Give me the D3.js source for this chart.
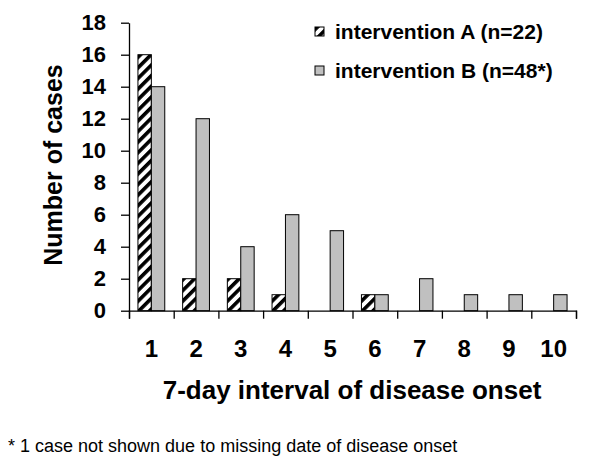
<!DOCTYPE html>
<html>
<head>
<meta charset="utf-8">
<script src="https://cdn.jsdelivr.net/npm/d3@7"></script>
<style>
  body { margin: 0; background: #fff; }
  svg { display: block; font-family: "Liberation Sans", Arial, sans-serif; }
</style>
</head>
<body>
<svg id="chart" width="600" height="465"></svg>
<script>
const intervals = [1, 2, 3, 4, 5, 6, 7, 8, 9, 10];
const casesA = [16, 2, 2, 1, 0, 1, 0, 0, 0, 0];
const casesB = [14, 12, 4, 6, 5, 1, 2, 1, 1, 1];
const seriesNames = ['intervention A (n=22)', 'intervention B (n=48*)'];
const yTicks = [0, 2, 4, 6, 8, 10, 12, 14, 16, 18];

const WIDTH = 600;
const HEIGHT = 465;
const margin = {top: 22.7, right: 24, bottom: 154.3, left: 129};

const svg = d3.select('#chart');

// hatch for intervention A
const defs = svg.append('defs');
defs.append('pattern')
    .attr('id', 'hatch')
    .attr('patternUnits', 'userSpaceOnUse')
    .attr('width', 7.5)
    .attr('height', 7.5)
    .attr('patternTransform', 'rotate(45)')
    .call(p => {
        p.append('rect').attr('width', 7.5).attr('height', 7.5).attr('fill', '#fff');
        p.append('rect').attr('width', 3.6).attr('height', 7.5).attr('fill', '#000');
    });

const fills = ['url(#hatch)', '#c0c0c0'];

const x = d3.scaleBand()
    .domain(intervals)
    .range([margin.left, WIDTH - margin.right])
    .padding(0);

const xSub = d3.scaleBand()
    .domain([0, 1])
    .range([0, x.bandwidth()])
    .paddingInner(0)
    .paddingOuter(0.667);

const xEdges = d3.scaleLinear()
    .domain([0, intervals.length])
    .range(x.range());

const y = d3.scaleLinear()
    .domain([0, 18])
    .range([HEIGHT - margin.bottom, margin.top]);

// bars
const rows = intervals.map((k, i) => ({k, values: [casesA[i], casesB[i]]}));

svg.append('g')
    .selectAll('g')
    .data(rows)
    .join('g')
    .attr('transform', d => `translate(${x(d.k)},0)`)
    .selectAll('rect')
    .data(d => d.values.map((v, s) => ({v, s})).filter(d => d.v > 0))
    .join('rect')
    .attr('x', d => xSub(d.s))
    .attr('width', xSub.bandwidth())
    .attr('y', d => y(d.v))
    .attr('height', d => y(0) - y(d.v))
    .attr('fill', d => fills[d.s])
    .attr('stroke', '#000')
    .attr('stroke-width', 1);

// y axis
const yAxis = svg.append('g')
    .attr('transform', `translate(${margin.left},0)`)
    .call(d3.axisLeft(y).tickValues(yTicks).tickSize(8).tickSizeOuter(0).tickPadding(15));

yAxis.selectAll('text')
    .attr('font-size', 22)
    .attr('font-weight', 'bold')
    .attr('fill', '#000')
    .attr('font-family', '"Liberation Sans", Arial, sans-serif');

// x axis: boundary ticks + centered labels
const xTicks = svg.append('g')
    .attr('transform', `translate(0,${y(0)})`)
    .call(d3.axisBottom(xEdges).ticks(intervals.length).tickFormat('').tickSize(8).tickSizeOuter(8));

const xLabels = svg.append('g')
    .attr('transform', `translate(0,${y(0)})`)
    .call(d3.axisBottom(x).tickSize(0).tickPadding(29));

xLabels.select('.domain').remove();
xLabels.selectAll('text')
    .attr('font-size', 24)
    .attr('font-weight', 'bold')
    .attr('fill', '#000')
    .attr('font-family', '"Liberation Sans", Arial, sans-serif');

svg.selectAll('.domain, .tick line')
    .attr('stroke', '#000')
    .attr('stroke-width', 1.3);

// axis titles
svg.append('text')
    .attr('transform', 'translate(62,165) rotate(-90)')
    .attr('text-anchor', 'middle')
    .attr('font-size', 25)
    .attr('font-weight', 'bold')
    .text('Number of cases');

svg.append('text')
    .attr('x', 352)
    .attr('y', 399)
    .attr('text-anchor', 'middle')
    .attr('font-size', 26)
    .attr('font-weight', 'bold')
    .text('7-day interval of disease onset');

// legend
const legend = svg.append('g')
    .selectAll('g')
    .data(seriesNames)
    .join('g')
    .attr('transform', (d, i) => `translate(315,${27 + i * 39})`);

legend.append('rect')
    .attr('width', 9)
    .attr('height', 9)
    .attr('fill', (d, i) => fills[i])
    .attr('stroke', '#000')
    .attr('stroke-width', 1);

legend.append('text')
    .attr('x', 20)
    .attr('y', 12)
    .attr('font-size', 21)
    .attr('font-weight', 'bold')
    .text(d => d);

// footnote
svg.append('text')
    .attr('x', 8)
    .attr('y', 452)
    .attr('font-size', 18)
    .text('* 1 case not shown due to missing date of disease onset');
</script>
</body>
</html>
